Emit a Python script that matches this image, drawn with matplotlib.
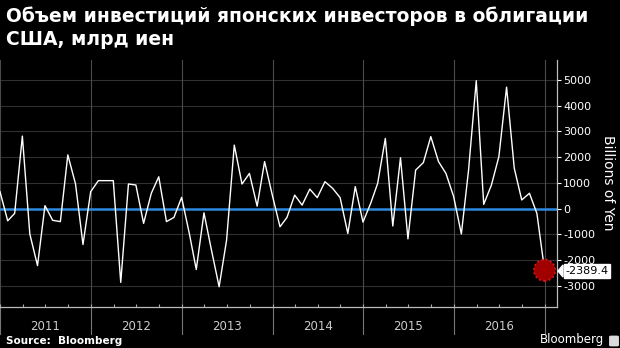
import matplotlib
matplotlib.use('Agg')
import matplotlib.pyplot as plt
import matplotlib.dates as mdates
from matplotlib import transforms
from matplotlib.patches import FancyBboxPatch
import numpy as np
import pandas as pd

plt.rcParams['axes.unicode_minus'] = False

# monthly net purchases, billions of yen (Dec 2010 .. Dec 2016)
months = pd.date_range('2010-12-31', periods=73, freq='ME')
values = [660, -470, -180, 2820, -980, -2210, 120, -450, -500, 2090, 960, -1390,
          660, 1090, 1090, 1090, -2860, 960, 920, -570, 600, 1240, -500, -340,
          440, -960, -2360, -160, -1600, -3030, -1220, 2470, 960, 1370, 100, 1830,
          530, -700, -340, 530, 140, 760, 430, 1050, 790, 430, -960, 860,
          -520, 210, 980, 2730, -670, 1980, -1170, 1500, 1790, 2800, 1830, 1370,
          470, -980, 1500, 4970, 170, 920, 2020, 4720, 1570, 340, 600, -180,
          -2389.4]
years = [2011, 2012, 2013, 2014, 2015, 2016]
yticks = [-3000, -2000, -1000, 0, 1000, 2000, 3000, 4000, 5000]

title = 'Объем инвестиций японских инвесторов в облигации\nСША, млрд иен'

fig = plt.figure(figsize=(6.2, 3.48), dpi=100, facecolor='black')
ax = fig.add_axes([0, 0.119, 0.898, 0.709])
ax.set_facecolor('black')

# grid
for y in yticks:
    ax.axhline(y, color='#303030', lw=0.8, zorder=1)
for yr in years + [2017]:
    d = pd.Timestamp(f'{yr}-01-01')
    ax.axvline(d, color='#4a4a4a', lw=0.8, zorder=1)
    ax.plot([d, d], [0, -0.11], transform=transforms.blended_transform_factory(ax.transData, ax.transAxes),
            color='#777777', lw=0.8, clip_on=False)
ax.axhline(0, color='#2d8ae0', lw=1.8, zorder=2)

ax.plot(months, values, color='white', lw=1.0, zorder=3)

# highlight last point
ax.scatter([months[-1]], [values[-1]], s=240, color='#a00000', edgecolors='#e01818',
           linewidths=1.2, linestyles=':', zorder=4)

ax.set_xlim(pd.Timestamp('2010-12-31'), pd.Timestamp('2017-02-18'))
ax.set_ylim(-3800, 5780)

ax.yaxis.tick_right()
ax.set_yticks(yticks)
ax.set_yticklabels([str(v) for v in yticks])
ax.tick_params(axis='y', colors='white', labelsize=8, length=3, width=0.8, pad=1.5, direction='out')
ax.set_ylabel('Billions of Yen', color='white', fontsize=10, rotation=270, labelpad=14)
ax.yaxis.set_label_position('right')

ax.xaxis.set_major_locator(mdates.MonthLocator(bymonth=[1, 4, 7, 10]))
ax.xaxis.set_major_formatter(plt.NullFormatter())
ax.tick_params(axis='x', colors='#aaaaaa', length=2.5, width=0.8, direction='in')

for s in ['top', 'left']:
    ax.spines[s].set_visible(False)
for s in ['bottom', 'right']:
    ax.spines[s].set_color('#bbbbbb')
    ax.spines[s].set_linewidth(0.9)

trans = transforms.blended_transform_factory(ax.transData, ax.transAxes)
for yr in years:
    mid = pd.Timestamp(f'{yr}-07-02')
    ax.text(mid, -0.08, str(yr), transform=trans, color='#cccccc', fontsize=8.5,
            ha='center', va='center')

# value label
fig.text(0.912, 1 - 271 / 348, '-2389.4', color='black', fontsize=8, ha='left', va='center',
         bbox=dict(boxstyle='square,pad=0.15', fc='white', ec='white'))
fig.patches.append(plt.Polygon([[558 / 620, 1 - 271 / 348], [563 / 620, 1 - 265 / 348],
                                [563 / 620, 1 - 277 / 348]], closed=True, color='white',
                               transform=fig.transFigure))

fig.text(0.01, 1 - 6 / 348, title, color='white', fontsize=13.5, fontweight='bold',
         family='DejaVu Sans', va='top', ha='left', linespacing=1.3)
fig.text(0.01, 1 - 341 / 348, 'Source:  Bloomberg', color='white', fontsize=7.5,
         fontweight='bold', va='center', ha='left')
fig.text(0.870, 1 - 340 / 348, 'Bloomberg', color='white', fontsize=8.5, va='center', ha='left')
fig.patches.append(FancyBboxPatch((611 / 620, 1 - 345 / 348), 6 / 620, 8 / 348,
                                  boxstyle='round,pad=0.002', color='#dddddd',
                                  transform=fig.transFigure))

fig.savefig('out.png', dpi=100, facecolor='black')
